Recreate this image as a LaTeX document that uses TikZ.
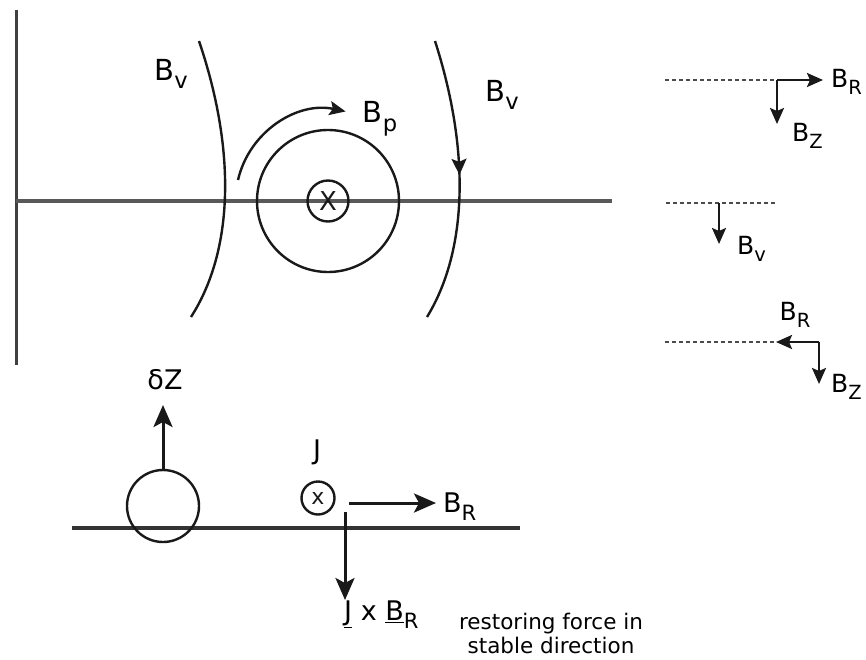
\documentclass[tikz,border=0pt]{standalone}
\usepackage{fontspec}
\setmainfont{DejaVu Sans}
\usetikzlibrary{arrows.meta,decorations.markings}
\newcommand{\lsub}[1]{\raisebox{-0.3em}{\scalebox{0.78}{#1}}}
\begin{document}
\begin{tikzpicture}[x=1pt,y=-1pt,
  ln/.style={line width=2.4pt,black!90},
  axisln/.style={line width=3.2pt,black!65},
  arr/.style={line width=2.4pt,black!90,-{Stealth[length=16pt,width=14pt,inset=3pt]}},
  bigarr/.style={line width=3pt,black!90,-{Stealth[length=22pt,width=19pt,inset=5pt]}},
  dashln/.style={line width=1.6pt,black!70,dash pattern=on 4pt off 3pt},
  biglab/.style={font=\fontsize{29}{32}\selectfont,inner sep=0pt},
  midlab/.style={font=\fontsize{27}{30}\selectfont,inner sep=0pt},
  smalllab/.style={font=\fontsize{25}{28}\selectfont,inner sep=0pt},
  note/.style={font=\fontsize{21.5}{24}\selectfont,inner sep=0pt,align=center},
  ring/.style={circle,draw,line width=2.4pt,black!90,inner sep=0pt}]
\useasboundingbox (0,0) rectangle (866,659);

% ---------- top-left panel ----------
\coordinate (vt) at (16,10);
\coordinate (vb) at (16,365);
\draw[line width=3pt,black!75] (vt) -- (vb);
\coordinate (hl) at (16,201);
\coordinate (hr) at (612,201);
\draw[axisln] (hl) -- (hr);

\coordinate (la) at (199,41);
\coordinate (lb) at (191,317);
\draw[ln] (la) .. controls (236,150) and (234,250) .. (lb);
\coordinate (ra) at (435,41);
\coordinate (rb) at (427,317);
\draw[ln,postaction={decorate},decoration={markings,
  mark=at position 0.48 with {\arrow{Stealth[length=16pt,width=15pt,inset=3pt]}}}]
  (ra) .. controls (470,150) and (468,250) .. (rb);

\node[ring,minimum size=142pt] (bigc) at (328,201) {};
\node[ring,minimum size=41pt,font=\fontsize{26}{28}\selectfont] (curr) at (328,201) {X};

\coordinate (bps) at (238,180);
\draw[arr] (bps) arc[start angle=-167,end angle=-78,radius=91];

\node[biglab] (bv1) at (171,74) {B\lsub{v}};
\node[biglab] (bv2) at (502,95) {B\lsub{v}};
\node[biglab] (bp) at (380,119) {B\lsub{p}};

% ---------- right panel ----------
\coordinate (d1a) at (665,80);
\coordinate (d1b) at (777,80);
\coordinate (d1r) at (823,80);
\coordinate (d1d) at (777,124);
\draw[dashln] (d1a) -- (d1b);
\draw[arr] (d1b) -- (d1r);
\draw[arr] (d1b) -- (d1d);
\node[smalllab,anchor=west] (br1) at (831,82) {B\lsub{R}};
\node[smalllab,anchor=west] (bz1) at (792,136) {B\lsub{Z}};

\coordinate (d2a) at (666,203);
\coordinate (d2b) at (777,203);
\coordinate (d2m) at (719,203);
\coordinate (d2d) at (719,244);
\draw[dashln] (d2a) -- (d2b);
\draw[arr] (d2m) -- (d2d);
\node[smalllab,anchor=west] (bv3) at (737,249) {B\lsub{v}};

\coordinate (d3a) at (665,342);
\coordinate (d3b) at (776,342);
\coordinate (d3c) at (819,342);
\coordinate (d3d) at (819,384);
\draw[dashln] (d3a) -- (d3b);
\draw[arr] (d3c) -- (d3b);
\draw[arr] (d3c) -- (d3d);
\node[smalllab] (br2) at (795,315) {B\lsub{R}};
\node[smalllab,anchor=west] (bz2) at (831,387) {B\lsub{Z}};

% ---------- bottom panel ----------
\coordinate (bl) at (72,528);
\coordinate (br) at (520,528);
\draw[line width=3.2pt,black!80] (bl) -- (br);
\node[ring,minimum size=72pt] (blob) at (163,506) {};
\coordinate (dzt) at (163,405);
\draw[bigarr] (blob.north) -- (dzt);
\node[midlab] (dz) at (165,380) {δZ};

\node[midlab] (jl) at (317,452) {J};
\node[ring,minimum size=33pt,font=\fontsize{22}{24}\selectfont] (jc) at (318,498) {x};
\coordinate (bra) at (349,503);
\coordinate (brb) at (436,503);
\draw[bigarr] (bra) -- (brb);
\node[midlab,anchor=west] (br3) at (443,507) {B\lsub{R}};
\coordinate (fa) at (345,512);
\coordinate (fb) at (345,600);
\draw[bigarr] (fa) -- (fb);
\node[midlab,anchor=west] (jxb) at (344,615) {\underline{J} x \underline{B}\lsub{R}};
\node[note] (rest) at (551,633) {restoring force in\\stable direction};
\end{tikzpicture}
\end{document}
